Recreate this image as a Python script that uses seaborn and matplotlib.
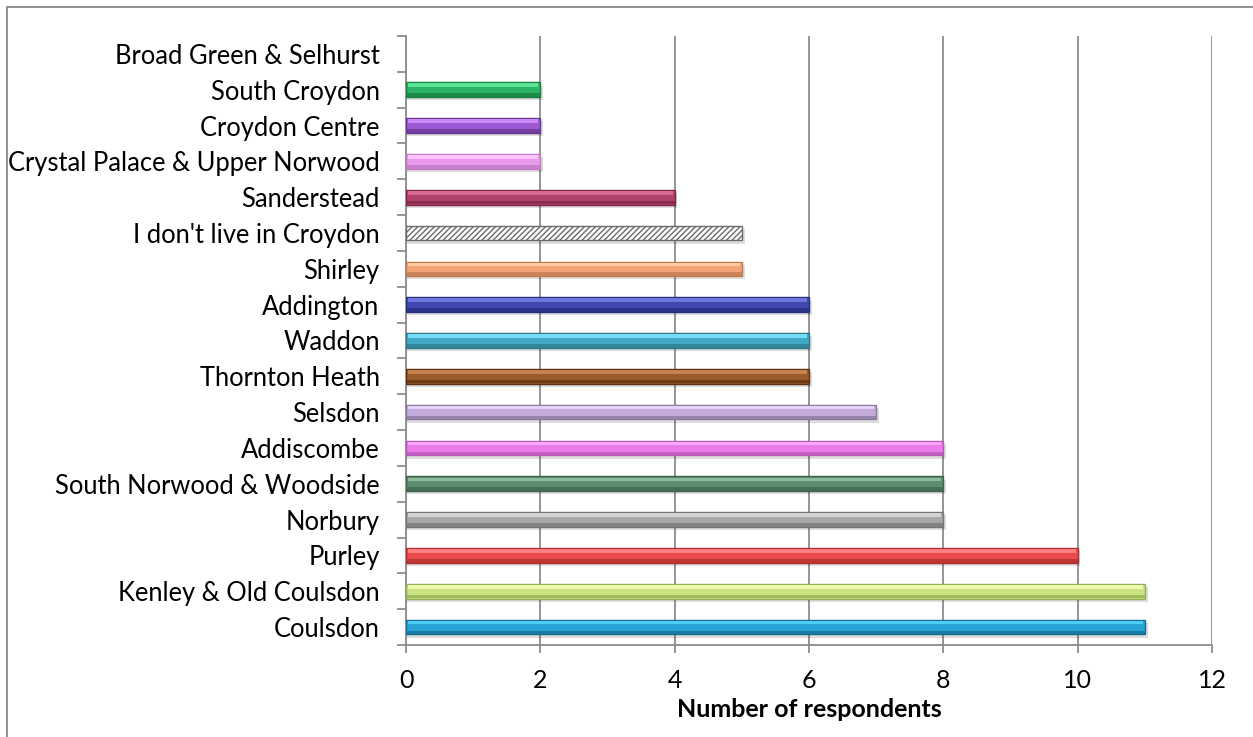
import matplotlib
matplotlib.use("Agg")
import matplotlib.pyplot as plt
from matplotlib.patches import Rectangle
import seaborn as sns
import pandas as pd
import numpy as np

# Responses per area (top to bottom)
areas = [
    "Broad Green & Selhurst", "South Croydon", "Croydon Centre",
    "Crystal Palace & Upper Norwood", "Sanderstead", "I don't live in Croydon",
    "Shirley", "Addington", "Waddon", "Thornton Heath", "Selsdon",
    "Addiscombe", "South Norwood & Woodside", "Norbury", "Purley",
    "Kenley & Old Coulsdon", "Coulsdon",
]
respondents = [0, 2, 2, 2, 4, 5, 5, 6, 6, 6, 7, 8, 8, 8, 10, 11, 11]

# Bar colours: body, highlight, shade
body = ["#9a9a9a", "#2cb466", "#9c5ad2", "#ea9aea", "#b0426e", "#ffffff",
        "#f2a474", "#4048b0", "#42a8c8", "#9a5a2a", "#c2aada",
        "#ec7cec", "#5e8c6e", "#a8a8a8", "#ea4a4a", "#cae282", "#28a4d6"]
light = ["#cccccc", "#5ae496", "#c888fa", "#ffc4ff", "#d86a92", "#ffffff",
         "#ffcaa2", "#6e76dc", "#74dcf4", "#c48452", "#e6d2f8",
         "#ffa8ff", "#8cbc9c", "#d4d4d4", "#ff7e7e", "#eefaae", "#4ccef4"]
dark = ["#707070", "#187e40", "#683694", "#c07ac6", "#7e2646", "#666666",
        "#c07a50", "#262e80", "#2e7888", "#5e3010", "#8a789e",
        "#b658b8", "#3e6450", "#767676", "#b02e2e", "#94ae56", "#146e90"]

df = pd.DataFrame({"area": areas, "n": respondents})

plt.rcParams["font.family"] = ["Lato", "DejaVu Sans"]
fig = plt.figure(figsize=(12.53, 7.37), dpi=100)
ax = fig.add_axes([406 / 1253, 1 - 645 / 737, (1212 - 406) / 1253, (645 - 36) / 737])

bar_h = 0.41
sns.barplot(data=df, y="area", x="n", hue="area", palette=dict(zip(areas, body)),
            order=areas, hue_order=areas, legend=False, orient="h",
            width=bar_h, ax=ax, zorder=3, linewidth=1.0, saturation=1)

for cont, a, d, v in zip(ax.containers, areas, dark, respondents):
    for p in cont:
        p.set_edgecolor(d)
        if v == 0:
            p.set_visible(False)
        if a == "I don't live in Croydon":
            p.set_hatch("//////")
            p.set_edgecolor("#6a6a6a")

ypos = np.arange(len(areas))
vals = np.array(respondents, dtype=float)
shown = vals > 0
# soft drop shadow
ax.barh(ypos[shown] + 0.09, vals[shown] + 0.04, height=bar_h, color="#000000",
        alpha=0.13, zorder=2, linewidth=0)
# bevel: light band on top, dark band at the bottom
for i in np.where(shown)[0]:
    if areas[i] == "I don't live in Croydon":
        continue
    ax.barh(ypos[i] - 0.125, vals[i] - 0.06, left=0.03, height=0.1,
            color=light[i], zorder=4, linewidth=0)
    ax.barh(ypos[i] + 0.15, vals[i], height=0.1, color=dark[i],
            alpha=0.75, zorder=4, linewidth=0)

ax.set_xlim(0, 12)
ax.set_ylim(len(areas) - 0.5, -0.5)
ax.set_xticks(range(0, 13, 2))
ax.set_yticks(ypos)
ax.set_yticks(np.arange(-0.5, len(areas), 1.0), minor=True)

grid_c = "#8c8c8c"
ax.xaxis.grid(True, color=grid_c, linewidth=1.3, zorder=0)
ax.yaxis.grid(False)
ax.set_axisbelow(True)
for s in ["top", "right"]:
    ax.spines[s].set_visible(False)
for s in ["left", "bottom"]:
    ax.spines[s].set_color(grid_c)
    ax.spines[s].set_linewidth(1.3)

fs = 18
ax.tick_params(axis="x", direction="out", length=5.5, width=1.3, color=grid_c,
               pad=12, labelsize=fs, labelcolor="black")
ax.tick_params(axis="y", which="major", length=0, pad=19, labelsize=18.4,
               labelcolor="black")
ax.tick_params(axis="y", which="minor", direction="out", length=6.5, width=1.3,
               color=grid_c)
ax.set_ylabel("")
ax.set_xlabel("Number of respondents", fontsize=fs, fontweight="bold",
              labelpad=4)
ax.set_facecolor("white")

# chart frame
fig.patches.append(Rectangle((7 / 1253, -0.1), 1.2, 1.1 - 7 / 737,
                             transform=fig.transFigure, fill=False,
                             edgecolor="#8a8a8a", linewidth=1.3))

fig.savefig("out.png", dpi=100, facecolor="white")
